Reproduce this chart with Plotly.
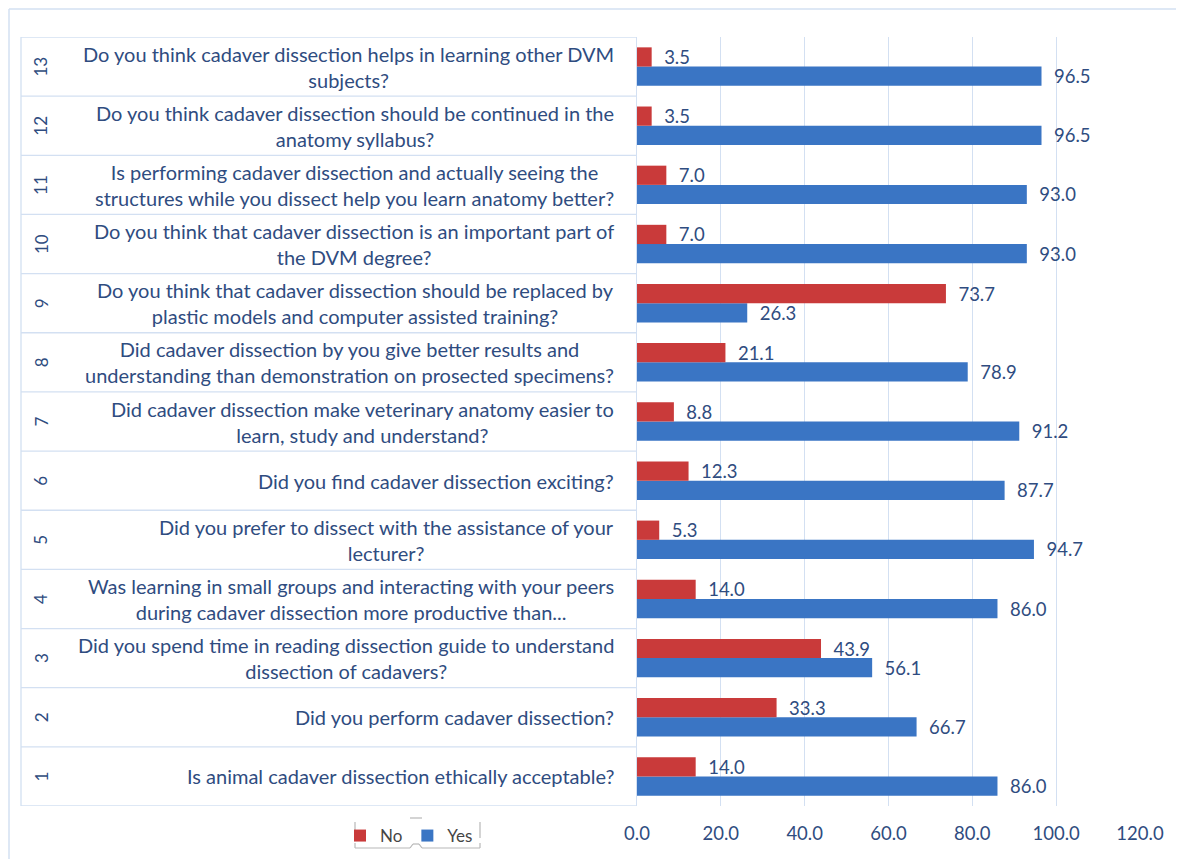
import plotly.graph_objects as go

# ---- data ----
item_numbers = [str(i) for i in range(1, 14)]
questions = [
    "Is animal cadaver dissection ethically acceptable?",
    "Did you perform cadaver dissection?",
    "Did you spend time in reading dissection guide to understand<br>dissection of cadavers?",
    "Was learning in small groups and interacting with your peers<br>during cadaver dissection more productive than...",
    "Did you prefer to dissect with the assistance of your<br>lecturer?",
    "Did you find cadaver dissection exciting?",
    "Did cadaver dissection make veterinary anatomy easier to<br>learn, study and understand?",
    "Did cadaver dissection by you give better results and<br>understanding than demonstration on prosected specimens?",
    "Do you think that cadaver dissection should be replaced by<br>plastic models and computer assisted training?",
    "Do you think that cadaver dissection is an important part of<br>the DVM degree?",
    "Is performing cadaver dissection and actually seeing the<br>structures while you dissect help you learn anatomy better?",
    "Do you think cadaver dissection should be continued in the<br>anatomy syllabus?",
    "Do you think cadaver dissection helps in learning other DVM<br>subjects?",
]
no_values = [14.0, 33.3, 43.9, 14.0, 5.3, 12.3, 8.8, 21.1, 73.7, 7.0, 7.0, 3.5, 3.5]
yes_values = [86.0, 66.7, 56.1, 86.0, 94.7, 87.7, 91.2, 78.9, 26.3, 93.0, 93.0, 96.5, 96.5]
x_ticks = [0, 20, 40, 60, 80, 100, 120]

# ---- layout constants (screen pixels; page body has an 8px offset) ----
OFF = 8
W, H = 1184 - OFF, 859 - OFF
PLOT_LEFT, PLOT_RIGHT, PLOT_TOP, PLOT_BOTTOM = 637, 1140, 37, 806
L = PLOT_LEFT - OFF
T = PLOT_TOP - OFF
R = W - (PLOT_RIGHT - OFF)
B = H - (PLOT_BOTTOM - OFF)
PW = W - L - R
PH = H - T - B

def px_x(p):  # screen x -> paper x
    return (p - PLOT_LEFT) / PW

def px_y(p):  # screen y -> paper y
    return (PLOT_BOTTOM - p) / PH

TEXT_COLOR = "#2F4C80"
LINE_COLOR = "#D3E0F2"
FRAME_COLOR = "#B8B8B8"
FONT = "Lato"

fig = go.Figure()
fig.add_trace(go.Bar(
    y=item_numbers, x=yes_values, name="Yes", orientation="h",
    marker=dict(color="#3A75C4", line=dict(width=0)),
    texttemplate="\u00a0\u00a0%{x:.1f}", textposition="outside", constraintext="none",
    textfont=dict(color=TEXT_COLOR, size=18.5, family=FONT),
    cliponaxis=False, legendrank=2,
))
fig.add_trace(go.Bar(
    y=item_numbers, x=no_values, name="No", orientation="h",
    marker=dict(color="#C93A3A", line=dict(width=0)),
    texttemplate="\u00a0\u00a0%{x:.1f}", textposition="outside", constraintext="none",
    textfont=dict(color=TEXT_COLOR, size=18.5, family=FONT),
    cliponaxis=False, legendrank=1,
))

shapes = []
annotations = []
n = len(item_numbers)
for i in range(n + 1):
    shapes.append(dict(type="line", xref="paper", yref="y",
                       x0=px_x(21), x1=0, y0=i - 0.5, y1=i - 0.5,
                       line=dict(color=LINE_COLOR, width=1.3), layer="below"))
shapes.append(dict(type="line", xref="paper", yref="y",
                   x0=px_x(21), x1=px_x(21), y0=-0.5, y1=n - 0.5,
                   line=dict(color=LINE_COLOR, width=1.3)))
# outer chart border (top and left edges of the chart area)
shapes.append(dict(type="line", xref="paper", yref="paper",
                   x0=px_x(OFF + 1), x1=px_x(1200), y0=px_y(OFF + 1), y1=px_y(OFF + 1),
                   line=dict(color=LINE_COLOR, width=1.5)))
shapes.append(dict(type="line", xref="paper", yref="paper",
                   x0=px_x(OFF + 1), x1=px_x(OFF + 1), y0=px_y(OFF + 1), y1=px_y(880),
                   line=dict(color=LINE_COLOR, width=1.5)))

# faint frame around the legend
frame_segments = [
    ((355, 822), (355, 838)),
    ((355, 843), (355, 848)),
    ((355, 848), (410, 848)),
    ((410, 848), (413, 844)),
    ((413, 844), (419, 844)),
    ((419, 844), (422, 848)),
    ((422, 848), (480, 848)),
    ((480, 848), (480, 843)),
    ((480, 838), (480, 822)),
    ((410, 818), (422, 818)),
]
for (xa, ya), (xb, yb) in frame_segments:
    shapes.append(dict(type="line", xref="paper", yref="paper",
                       x0=px_x(xa), y0=px_y(ya), x1=px_x(xb), y1=px_y(yb),
                       line=dict(color=FRAME_COLOR, width=1.2)))

for idx, (num, q) in enumerate(zip(item_numbers, questions)):
    annotations.append(dict(xref="paper", yref="y", x=0, y=idx, xshift=-21,
                            xanchor="right", yanchor="middle", align="center",
                            text=q, showarrow=False,
                            font=dict(color=TEXT_COLOR, size=20, family=FONT)))
    annotations.append(dict(xref="paper", yref="y", x=px_x(41), y=idx,
                            xanchor="center", yanchor="middle", textangle=-90,
                            text=num, showarrow=False,
                            font=dict(color=TEXT_COLOR, size=17, family=FONT)))

fig.update_layout(
    width=W, height=H,
    margin=dict(l=L, r=R, t=T, b=B, autoexpand=False),
    paper_bgcolor="white", plot_bgcolor="white",
    barmode="group", bargap=0.35, bargroupgap=0,
    font=dict(family=FONT, color=TEXT_COLOR),
    showlegend=True,
    legend=dict(orientation="h", x=px_x(340), y=px_y(818), xanchor="left", yanchor="top",
                font=dict(size=17, color="#454545", family=FONT),
                itemwidth=30, traceorder="normal",
                bgcolor="rgba(0,0,0,0)"),
    xaxis=dict(range=[0, 120], tickvals=x_ticks, tickformat=".1f",
               showgrid=True, gridcolor=LINE_COLOR, gridwidth=1.3,
               zeroline=False, showline=False, ticks="",
               ticklabelstandoff=14,
               tickfont=dict(size=18.5, color=TEXT_COLOR, family=FONT), fixedrange=True),
    yaxis=dict(type="category", categoryorder="array", categoryarray=item_numbers,
               range=[-0.5, n - 0.5], showticklabels=False, showgrid=False,
               zeroline=False, showline=True, linecolor=LINE_COLOR, linewidth=1.3,
               ticks="", fixedrange=True),
    shapes=shapes, annotations=annotations,
)

fig.write_html("out.html")
